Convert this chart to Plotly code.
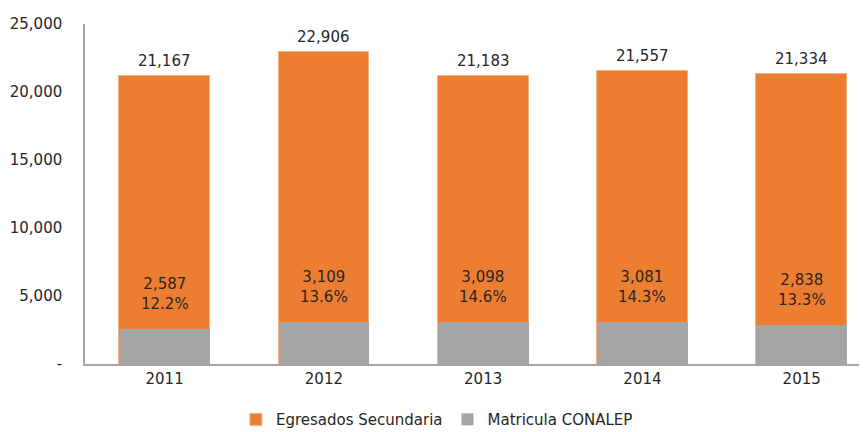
import plotly.graph_objects as go

years = ["2011", "2012", "2013", "2014", "2015"]
egresados = [21167, 22906, 21183, 21557, 21334]
conalep = [2587, 3109, 3098, 3081, 2838]
pct_labels = ["12.2%", "13.6%", "14.6%", "14.3%", "13.3%"]
y_ticks = [0, 5000, 10000, 15000, 20000, 25000]
y_tick_text = ["-", "5,000", "10,000", "15,000", "20,000", "25,000"]

xpos = list(range(len(years)))
FONT = "DejaVu Sans"
TXT = "#262626"

fig = go.Figure()
fig.add_trace(go.Bar(x=xpos, y=egresados, name="Egresados Secundaria",
                     marker=dict(color="#ED7D31", line=dict(color="#F4B183", width=1)),
                     width=0.57))
fig.add_trace(go.Bar(x=xpos, y=conalep, name="Matricula CONALEP",
                     marker=dict(color="#A5A5A5", line=dict(width=0)),
                     width=0.57))

for i in xpos:
    fig.add_annotation(x=i, y=egresados[i], text=f"{egresados[i]:,}", showarrow=False,
                       yanchor="bottom", yshift=4, font=dict(size=15, color=TXT, family=FONT))
    fig.add_annotation(x=i, y=conalep[i], text=f"{conalep[i]:,}<br>{pct_labels[i]}", showarrow=False,
                       yanchor="bottom", yshift=14, font=dict(size=15, color=TXT, family=FONT))

fig.update_layout(
    barmode="overlay",
    width=859, height=424,
    margin=dict(l=77, r=0, t=16, b=68, autoexpand=False),
    plot_bgcolor="white", paper_bgcolor="white",
    font=dict(family=FONT, size=14, color="#404040"),
    showlegend=True,
    legend=dict(orientation="h", x=0.45, xanchor="center", y=-0.115, yanchor="top",
                font=dict(size=15, color=TXT, family=FONT), traceorder="normal",
                itemwidth=30, tracegroupgap=0),
    bargap=0,
)
fig.update_xaxes(range=[-0.5, 4.41], tickvals=xpos, ticktext=years, showgrid=False,
                 showline=True, linecolor="#A6A6A6", linewidth=1.5, ticks="", zeroline=False,
                 tickfont=dict(size=15, color=TXT), automargin=False)
fig.update_yaxes(range=[0, 25000], tickvals=y_ticks, ticktext=y_tick_text, showgrid=False,
                 showline=True, linecolor="#A6A6A6", linewidth=1.5, ticks="", zeroline=False,
                 tickfont=dict(size=15, color=TXT), ticklabelstandoff=18, automargin=False)

fig.write_html("out.html")
